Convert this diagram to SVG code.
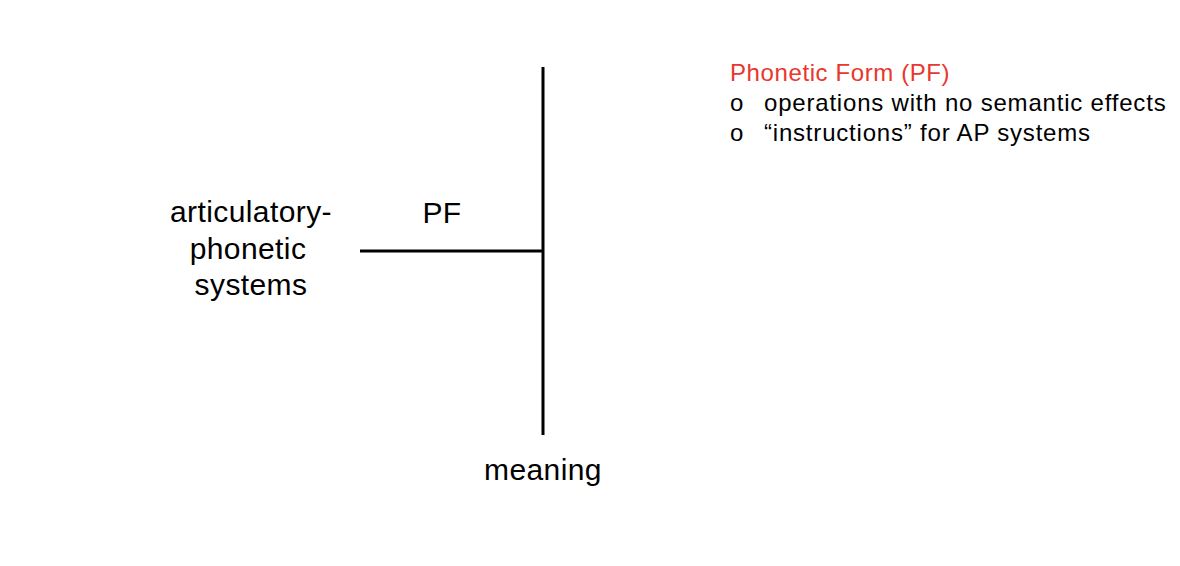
<svg xmlns="http://www.w3.org/2000/svg" width="1180" height="566" viewBox="0 0 1180 566">
<style>
text{font-family:"Liberation Sans",Arial,sans-serif;fill:#000}
.big{font-size:30px;letter-spacing:0.4px}
.note{font-size:24px;letter-spacing:0.8px}
.red{fill:#e8372c;letter-spacing:0.6px}
.ln{stroke:#000;stroke-width:3;fill:none}
</style>
<rect width="1180" height="566" fill="#fff"/>
<g id="connectors">
<line class="ln" x1="543" y1="67" x2="543" y2="435"/>
<line class="ln" x1="360" y1="251" x2="543" y2="251"/>
</g>
<g id="node-ap">
<text class="big" x="251" y="222" text-anchor="middle">articulatory-</text>
<text class="big" x="248" y="259" text-anchor="middle">phonetic</text>
<text class="big" x="251" y="295" text-anchor="middle">systems</text>
</g>
<g id="label-pf"><text class="big" x="442" y="223" text-anchor="middle">PF</text></g>
<g id="node-meaning"><text class="big" x="543" y="480" text-anchor="middle">meaning</text></g>
<g id="notes">
<text class="note red" x="730" y="81">Phonetic Form (PF)</text>
<text class="note" x="730" y="111">o</text>
<text class="note" x="764" y="111">operations with no semantic effects</text>
<text class="note" x="730" y="141">o</text>
<text class="note" x="764" y="141">“instructions” for AP systems</text>
</g>
</svg>
